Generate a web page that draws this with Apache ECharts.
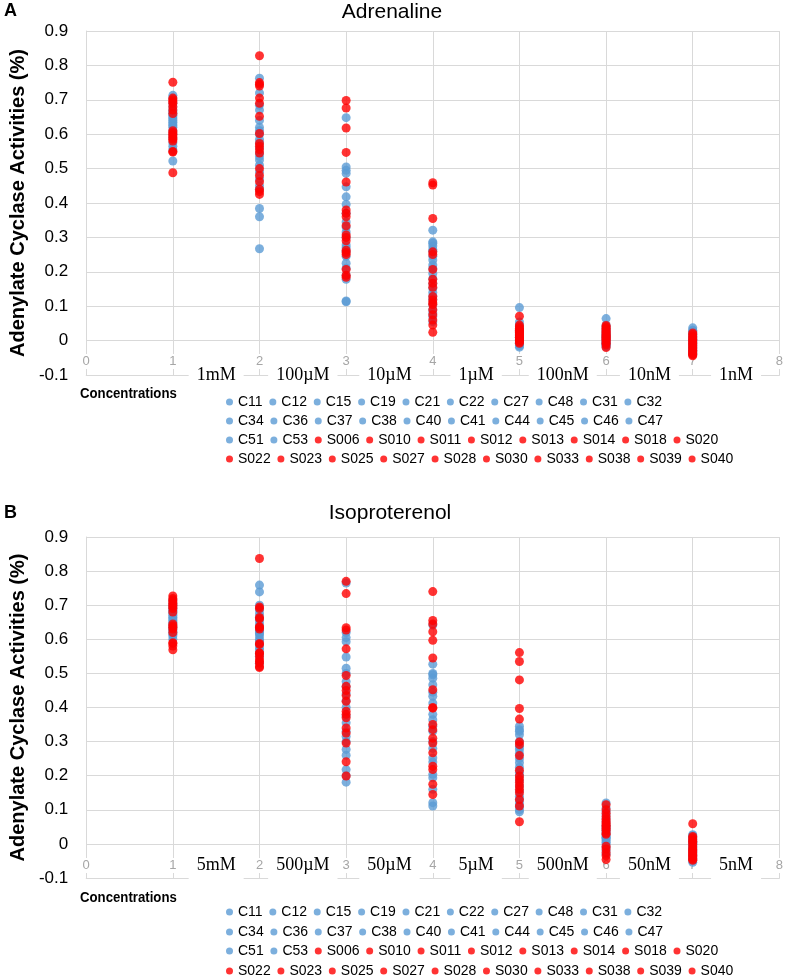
<!DOCTYPE html>
<html>
<head>
<meta charset="utf-8">
<script src="https://cdn.jsdelivr.net/npm/echarts@6/dist/echarts.min.js"></script>
<style>html,body{margin:0;padding:0;background:#fff}#chart{width:788px;height:976px}</style>
</head>
<body>
<div id="chart"></div>
<script>
// ---- data ----
const controlNames = ['C11','C12','C15','C19','C21','C22','C27','C48','C31','C32','C34','C36','C37','C38','C40','C41','C44','C45','C46','C47','C51','C53'];
const subjectNames = ['S006','S010','S011','S012','S013','S014','S018','S020','S022','S023','S025','S027','S028','S030','S033','S038','S039','S040'];
const concentrations = [1,2,3,4,5,6,7];
const adrConcLabels = ['1mM','100µM','10µM','1µM','100nM','10nM','1nM'];
const isoConcLabels = ['5mM','500µM','50µM','5µM','500nM','50nM','5nM'];

// Adrenaline – controls (rows = concentration 1..7, columns = control series)
const adrControl = [
  [0.713,0.705,0.69,0.68,0.67,0.665,0.66,0.655,0.65,0.645,0.64,0.635,0.63,0.625,0.62,0.61,0.60,0.59,0.575,0.565,0.555,0.522],
  [0.763,0.72,0.684,0.67,0.64,0.62,0.61,0.60,0.585,0.575,0.56,0.545,0.535,0.525,0.51,0.49,0.47,0.45,0.44,0.384,0.36,0.267],
  [0.648,0.505,0.495,0.486,0.447,0.418,0.396,0.37,0.345,0.33,0.316,0.30,0.278,0.27,0.26,0.245,0.225,0.21,0.19,0.178,0.115,0.113],
  [0.321,0.287,0.283,0.275,0.265,0.26,0.245,0.234,0.22,0.21,0.195,0.18,0.165,0.152,0.14,0.13,0.12,0.105,0.09,0.08,0.07,0.055],
  [0.096,0.054,0.045,0.04,0.035,0.03,0.025,0.02,0.018,0.015,0.012,0.01,0.008,0.005,0.003,0,-0.003,-0.005,-0.008,-0.01,-0.015,-0.019],
  [0.064,0.045,0.04,0.035,0.03,0.025,0.02,0.018,0.015,0.012,0.01,0.008,0.005,0.003,0,-0.003,-0.005,-0.008,-0.01,-0.012,-0.015,-0.018],
  [0.037,0.03,0.027,0.022,0.018,0.015,0.012,0.008,0.005,0.002,0,-0.003,-0.006,-0.01,-0.013,-0.016,-0.02,-0.024,-0.028,-0.032,-0.036,-0.04]
];
// Adrenaline – subjects
const adrSubject = [
  [0.751,0.705,0.70,0.695,0.69,0.68,0.67,0.66,0.61,0.605,0.60,0.595,0.59,0.585,0.58,0.55,0.548,0.488],
  [0.828,0.75,0.745,0.74,0.705,0.69,0.652,0.602,0.573,0.565,0.555,0.545,0.50,0.48,0.462,0.44,0.433,0.425],
  [0.698,0.676,0.618,0.547,0.461,0.38,0.37,0.36,0.334,0.307,0.30,0.29,0.263,0.256,0.25,0.207,0.19,0.184],
  [0.459,0.452,0.355,0.258,0.25,0.207,0.178,0.167,0.155,0.128,0.118,0.11,0.105,0.09,0.075,0.06,0.045,0.024],
  [0.071,0.045,0.04,0.035,0.032,0.03,0.027,0.024,0.02,0.017,0.014,0.01,0.008,0.005,0.002,0,-0.004,-0.008],
  [0.044,0.04,0.036,0.032,0.028,0.025,0.022,0.018,0.015,0.012,0.009,0.006,0.003,0,-0.004,-0.008,-0.012,-0.02],
  [0.022,0.018,0.012,0.008,0.004,0,-0.004,-0.008,-0.012,-0.016,-0.02,-0.024,-0.028,-0.032,-0.035,-0.038,-0.041,-0.044]
];
// Isoproterenol – controls
const isoControl = [
  [0.715,0.705,0.70,0.695,0.69,0.685,0.68,0.675,0.67,0.665,0.66,0.655,0.65,0.645,0.64,0.635,0.63,0.625,0.62,0.615,0.61,0.60],
  [0.759,0.739,0.70,0.686,0.675,0.665,0.655,0.645,0.637,0.63,0.625,0.62,0.617,0.61,0.60,0.595,0.585,0.575,0.569,0.56,0.55,0.53],
  [0.765,0.62,0.605,0.593,0.548,0.515,0.50,0.476,0.46,0.44,0.42,0.40,0.375,0.355,0.33,0.315,0.30,0.277,0.26,0.218,0.20,0.181],
  [0.642,0.527,0.50,0.496,0.486,0.467,0.445,0.433,0.413,0.38,0.364,0.345,0.33,0.30,0.28,0.252,0.24,0.204,0.194,0.16,0.121,0.111],
  [0.345,0.335,0.33,0.32,0.30,0.285,0.277,0.265,0.25,0.238,0.225,0.21,0.20,0.185,0.17,0.155,0.14,0.13,0.12,0.11,0.10,0.094],
  [0.12,0.105,0.095,0.085,0.075,0.065,0.055,0.05,0.045,0.04,0.035,0.03,0.025,0.02,0.018,0.015,0.01,0.005,0,-0.01,-0.02,-0.03],
  [0.027,0.024,0.02,0.016,0.012,0.008,0.005,0.002,0,-0.003,-0.006,-0.01,-0.014,-0.018,-0.022,-0.026,-0.03,-0.034,-0.038,-0.042,-0.048,-0.054]
];
// Isoproterenol – subjects
const isoSubject = [
  [0.727,0.72,0.715,0.71,0.705,0.70,0.695,0.69,0.68,0.645,0.64,0.635,0.63,0.62,0.59,0.588,0.58,0.569],
  [0.837,0.695,0.69,0.664,0.66,0.637,0.635,0.63,0.588,0.585,0.56,0.559,0.55,0.54,0.535,0.53,0.52,0.517],
  [0.770,0.734,0.634,0.627,0.572,0.494,0.462,0.45,0.435,0.418,0.389,0.38,0.37,0.34,0.325,0.296,0.241,0.199],
  [0.740,0.655,0.645,0.622,0.597,0.545,0.452,0.40,0.398,0.35,0.335,0.31,0.296,0.267,0.228,0.218,0.175,0.145],
  [0.561,0.535,0.481,0.397,0.366,0.299,0.291,0.259,0.216,0.199,0.19,0.18,0.17,0.16,0.15,0.13,0.111,0.065],
  [0.115,0.10,0.09,0.08,0.072,0.065,0.06,0.055,0.05,0.045,0.04,0.032,0.028,-0.007,-0.015,-0.026,-0.035,-0.046],
  [0.059,0.022,0.018,0.012,0.008,0.004,-0.002,-0.008,-0.014,-0.018,-0.021,-0.025,-0.029,-0.033,-0.037,-0.041,-0.045,-0.048]
];

// ---- chart ----
const BLUE = '#5B9BD5', RED = '#FF0000', GRID = '#d9d9d9';
const allNames = controlNames.concat(subjectNames);
const SANS = 'Liberation Sans, Arial, sans-serif';

function buildSeries(ctrl, subj, axisIdx) {
  const out = [];
  controlNames.forEach((n, i) => out.push({
    name: n, type: 'scatter', xAxisIndex: axisIdx * 2, yAxisIndex: axisIdx,
    symbolSize: 9, itemStyle: { color: BLUE },
    data: concentrations.map((c, k) => [c, ctrl[k][i]])
  }));
  subjectNames.forEach((n, i) => out.push({
    name: n, type: 'scatter', xAxisIndex: axisIdx * 2, yAxisIndex: axisIdx,
    symbolSize: 9, itemStyle: { color: RED },
    data: concentrations.map((c, k) => [c, subj[k][i]])
  }));
  return out;
}

function mainX(gi, margin) {
  return {
    type: 'value', gridIndex: gi, min: 0, max: 8, interval: 1, position: 'bottom',
    axisLine: { show: false, onZero: false },
    axisTick: { show: false },
    axisLabel: { color: '#a6a6a6', fontSize: 13, fontFamily: SANS,
      margin: margin, backgroundColor: '#fff', padding: [1, 2] },
    splitLine: { show: true, lineStyle: { color: GRID, width: 1 } }
  };
}
function concX(gi, labels, margin, pad) {
  return {
    type: 'value', gridIndex: gi, min: 0, max: 8, interval: 0.5, position: 'bottom',
    axisLine: { onZero: false, lineStyle: { color: GRID } },
    axisTick: { show: false },
    splitLine: { show: false },
    axisLabel: {
      margin: margin, showMinLabel: true, showMaxLabel: true,
      formatter: v => {
        const k = Math.round(v * 2);
        if (k % 2 === 1 && k >= 3 && k <= 15) return '{b|' + labels[(k - 3) / 2] + '}';
        return '';
      },
      rich: { b: { fontFamily: 'Liberation Serif, Times New Roman, serif', fontSize: 18, color: '#000',
        backgroundColor: '#fff', padding: pad, lineHeight: 18 } }
    }
  };
}
function yAx(gi) {
  return {
    type: 'value', gridIndex: gi, min: -0.1, max: 0.9, interval: 0.1,
    name: 'Adenylate Cyclase Activities (%)', nameLocation: 'middle', nameGap: 57,
    nameTextStyle: { fontSize: 20, fontWeight: 'bold', color: '#000', fontFamily: SANS },
    axisLine: { show: true, onZero: false, lineStyle: { color: GRID } },
    axisTick: { show: false },
    axisLabel: { fontSize: 17, color: '#000', margin: 18, fontFamily: SANS,
      formatter: v => String(Math.round(v * 10) / 10) },
    splitLine: { show: true, lineStyle: { color: GRID, width: 1 } }
  };
}
function legends(rowTops) {
  return rowTops.map((t, r) => ({
    data: allNames.slice(r * 10, r * 10 + 10),
    left: 226, top: t, padding: 0, orient: 'horizontal',
    icon: 'circle', itemWidth: 7, itemHeight: 7, itemGap: 6.7,
    selectedMode: false,
    textStyle: { fontSize: 14, color: '#000', width: 38, fontFamily: SANS }
  }));
}

const chart = echarts.init(document.getElementById('chart'), null, { renderer: 'canvas' });
chart.setOption({
  animation: false,
  backgroundColor: '#fff',
  grid: [
    { left: 79, right: 5, top: 31, height: 344 },
    { left: 79, right: 5, top: 537, height: 341 }
  ],
  xAxis: [mainX(0, -21), concX(0, adrConcLabels, -9, [3, 8, 3, 8]), mainX(1, -20), concX(1, isoConcLabels, -18, [4, 8, 12, 8])],
  yAxis: [yAx(0), yAx(1)],
  legend: legends([395, 414, 433, 452]).concat(legends([905, 925, 944, 964])),
  graphic: [
    { type: 'text', left: 4, top: 2, style: { text: 'A', font: 'bold 18px ' + SANS, fill: '#000' } },
    { type: 'text', left: 4, top: 504, style: { text: 'B', font: 'bold 18px ' + SANS, fill: '#000' } },
    { type: 'text', x: 392, y: 2, style: { text: 'Adrenaline', font: '21px ' + SANS, fill: '#000', textAlign: 'center' } },
    { type: 'text', x: 390, y: 503, style: { text: 'Isoproterenol', font: '21px ' + SANS, fill: '#000', textAlign: 'center' } },
    { type: 'text', x: 80, y: 386, scaleX: 0.88, style: { text: 'Concentrations', font: 'bold 15px ' + SANS, fill: '#000' } },
    { type: 'text', x: 80, y: 890, scaleX: 0.88, style: { text: 'Concentrations', font: 'bold 15px ' + SANS, fill: '#000' } }
  ],
  series: buildSeries(adrControl, adrSubject, 0).concat(buildSeries(isoControl, isoSubject, 1))
});
</script>
</body>
</html>
